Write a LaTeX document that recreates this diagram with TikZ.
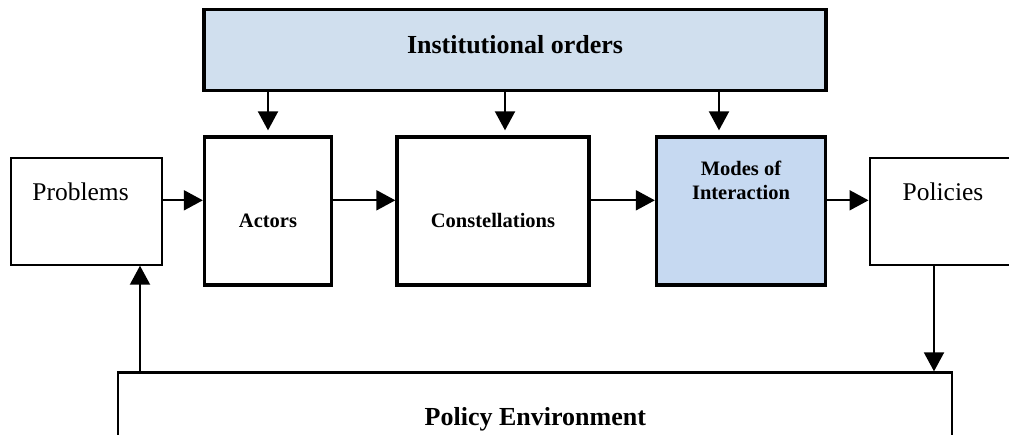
\documentclass[tikz,border=0pt]{standalone}
\usepackage{fontspec}
\setmainfont{Liberation Serif}
\usetikzlibrary{arrows.meta, positioning, calc}

\definecolor{instblue}{HTML}{D0DFEE}
\definecolor{modeblue}{HTML}{C6D9F1}

\tikzset{
  box/.style={draw, line width=3.3pt, inner sep=0pt, minimum height=148pt},
  side/.style={draw, line width=2pt, inner sep=0pt, fill=white,
               minimum width=151pt, minimum height=107pt},
  flow/.style={line width=2pt, -{Triangle[length=19pt, width=20pt]}},
  bigtxt/.style={anchor=base, font=\bfseries\fontsize{26}{30}\selectfont},
  sidetxt/.style={anchor=base, font=\fontsize{25.5}{30}\selectfont},
  boxtxt/.style={anchor=base, align=center, font=\bfseries\fontsize{20.5}{24.5}\selectfont},
}

\begin{document}
\begin{tikzpicture}[x=1pt, y=-1pt]
  \useasboundingbox (0,0) rectangle (1009,434);
  \clip (0,0) rectangle (1009,434);
  \fill[white] (0,0) rectangle (1009,434);

  % boxes
  \node[box, fill=instblue, minimum width=622pt, minimum height=81pt] (inst) at (515,50) {};
  \node[box, minimum width=127pt] (actors) at (268,211) {};
  \node[box, minimum width=192pt] (cons) at (493,211) {};
  \node[box, fill=modeblue, minimum width=169pt] (modes) at (741,211) {};
  \node[side] (prob) at (86.6,211.2) {};
  \node[side] (pol) at (945,211.2) {};
  \node[draw, line width=2.3pt, inner sep=0pt, minimum width=834pt, minimum height=100pt] (env) at (535.3,422.5) {};

  % texts
  \node[bigtxt] (insttxt) at (515,53) {Institutional orders};
  \node[sidetxt] (probtxt) at (80.5,200) {Problems};
  \node[sidetxt] (poltxt) at (943,200) {Policies};
  \node[boxtxt] (actorstxt) at (268,227) {Actors};
  \node[boxtxt] (constxt) at (493,227) {Constellations};
  \node[boxtxt] (modestxt) at (741,199.5) {Modes of\\Interaction};
  \node[bigtxt] (envtxt) at (535.3,425) {Policy Environment};

  % arrows
  \coordinate (row) at (0,200.3);
  \coordinate (dcons) at (505,0);
  \coordinate (dmodes) at (719,0);
  \coordinate (up) at (140,0);
  \coordinate (down) at (934,0);

  \draw[flow] (prob.east |- row) -- (actors.west |- row);
  \draw[flow] (actors.east |- row) -- (cons.west |- row);
  \draw[flow] (cons.east |- row) -- (modes.west |- row);
  \draw[flow] (modes.east |- row) -- (pol.west |- row);

  \draw[flow, shorten >=5pt] (inst.south -| actors) -- (actors.north);
  \draw[flow, shorten >=5pt] (inst.south -| dcons) -- (cons.north -| dcons);
  \draw[flow, shorten >=5pt] (inst.south -| dmodes) -- (modes.north -| dmodes);

  \draw[flow] (env.north -| up) -- (prob.south -| up);
  \draw[flow] (pol.south -| down) -- (env.north -| down);
\end{tikzpicture}
\end{document}
